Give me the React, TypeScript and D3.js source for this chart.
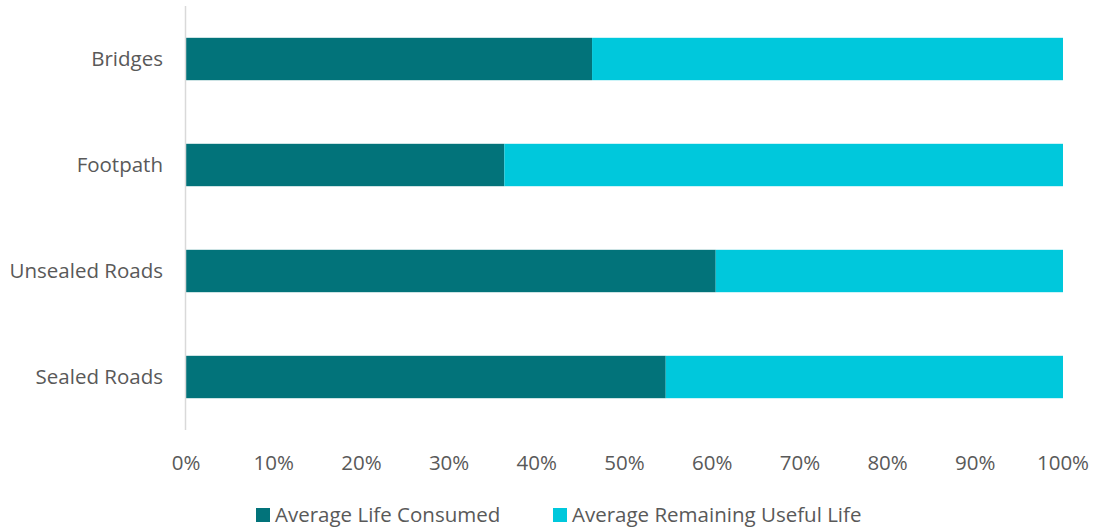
import React from "react";
import * as d3 from "d3";

const categories = ["Bridges", "Footpath", "Unsealed Roads", "Sealed Roads"];
const lifeConsumed = [46.3, 36.3, 60.4, 54.7];
const remainingLife = [53.7, 63.7, 39.6, 45.3];
const seriesNames = ["Average Life Consumed", "Average Remaining Useful Life"];
const colors = ["#02737A", "#00C8DC"];
const ticks = [0, 10, 20, 30, 40, 50, 60, 70, 80, 90, 100];

export default function App() {
  const W = 1093, H = 531;
  const x = d3.scaleLinear().domain([0, 100]).range([186, 1063]);
  const y = d3.scaleBand<string>().domain(categories).range([6, 430]).paddingInner(0.6).paddingOuter(0.3);
  const font = "'Open Sans', sans-serif";
  const textColor = "#595959";
  const fs = 20.5;
  const bw = y.bandwidth();
  return (
    <svg width={W} height={H} style={{ position: "absolute", left: 0, top: 0, background: "#fff" }}>
      {categories.map((c, i) => {
        const y0 = y(c)!;
        return (
          <g key={c}>
            <rect x={x(0)} y={y0} width={x(lifeConsumed[i]) - x(0)} height={bw} fill={colors[0]} />
            <rect x={x(lifeConsumed[i])} y={y0} width={x(lifeConsumed[i] + remainingLife[i]) - x(lifeConsumed[i])} height={bw} fill={colors[1]} />
            <text x={163} y={y0 + bw / 2} dy="0.35em" textAnchor="end" fontFamily={font} fontSize={fs} fill={textColor}>{c}</text>
          </g>
        );
      })}
      <line x1={x(0) - 0.5} x2={x(0) - 0.5} y1={6} y2={430} stroke="#D9D9D9" strokeWidth={1.5} />
      {ticks.map(t => (
        <text key={t} x={x(t)} y={470} textAnchor="middle" fontFamily={font} fontSize={fs} fill={textColor}>{t}%</text>
      ))}
      {seriesNames.map((s, i) => {
        const lx = i === 0 ? 256 : 553;
        return (
          <g key={s}>
            <rect x={lx} y={508} width={14} height={14} fill={colors[i]} />
            <text x={lx + 19} y={522} fontFamily={font} fontSize={fs} fill={textColor}>{s}</text>
          </g>
        );
      })}
    </svg>
  );
}
